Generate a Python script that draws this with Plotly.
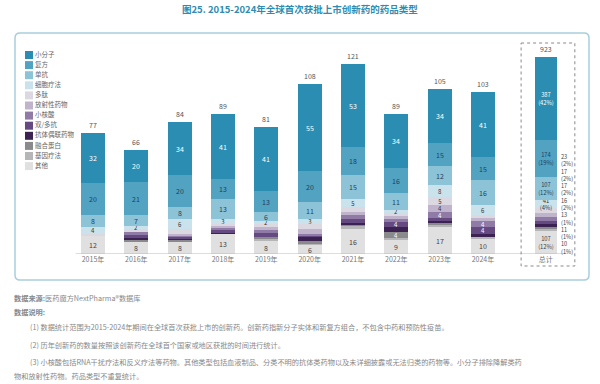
import plotly.graph_objects as go

# ---------------- data ----------------
years = ["2015年", "2016年", "2017年", "2018年", "2019年", "2020年",
         "2021年", "2022年", "2023年", "2024年"]
year_totals = [77, 66, 84, 89, 81, 108, 121, 89, 105, 103]
categories = ["小分子", "复方", "单抗", "细胞疗法", "多肽", "放射性药物", "小核酸",
              "双/多抗", "抗体偶联药物", "融合蛋白", "基因疗法", "其他"]
small_molecule = [32, 20, 34, 41, 41, 55, 53, 34, 34, 41]
combination = [20, 21, 20, 13, 13, 20, 18, 16, 15, 15]
mab = [8, 7, 8, 13, 6, 11, 15, 11, 12, 16]
cell_therapy = [4, 2, 6, 3, 2, 3, 5, 2, 8, 6]
peptide = [1, 2, 3, 1, 2, 3, 3, 2, 5, 2]
radio = [0, 0, 1, 1, 2, 3, 2, 2, 4, 2]
oligo = [0, 2, 1, 2, 1, 1, 3, 1, 4, 4]
bispecific = [0, 2, 1, 1, 3, 1, 2, 4, 2, 4]
adc = [0, 1, 1, 1, 0, 3, 1, 3, 1, 2]
fusion = [0, 1, 1, 0, 1, 1, 1, 4, 1, 0]
gene = [0, 0, 0, 0, 2, 1, 2, 1, 2, 1]
other = [12, 8, 8, 13, 8, 6, 16, 9, 17, 10]
series = [small_molecule, combination, mab, cell_therapy, peptide, radio, oligo,
          bispecific, adc, fusion, gene, other]

total_label = "总计"
grand_total = 923
total_values = [387, 174, 107, 41, 23, 17, 17, 16, 13, 11, 10, 107]
total_pcts = ["42%", "19%", "12%", "4%", "2%", "2%", "2%", "2%", "1%", "1%", "1%", "12%"]

title_text = "图25. 2015-2024年全球首次获批上市创新药的药品类型"
notes = [
    ("<b>数据来源:</b>医药魔方NextPharma®数据库", 12, 298),
    ("<b>数据说明:</b>", 12, 312),
    ("(1) 数据统计范围为2015-2024年期间在全球首次获批上市的创新药。创新药指新分子实体和新复方组合，不包含中药和预防性疫苗。", 28, 327),
    ("(2) 历年创新药的数量按照该创新药在全球首个国家或地区获批的时间进行统计。", 28, 345),
    ("(3) 小核酸包括RNA干扰疗法和反义疗法等药物。其他类型包括血液制品、分类不明的抗体类药物以及未详细披露或无法归类的药物等。小分子排除降解类药", 28, 362),
    ("物和放射性药物。药品类型不重复统计。", 12, 376),
]

# ---------------- style ----------------
colors = ["#2a8db1", "#52a2c2", "#8cc3d7", "#cae2ec", "#dcd8e2", "#c0b4cc",
          "#8f7ba6", "#654a82", "#3b2253", "#8a8a8c", "#b6b6b8", "#e0e0e0"]
text_colors = ["#ffffff", "#1f3f5c", "#1f3f5c", "#333333", "#333333", "#333333",
               "#ffffff", "#ffffff", "#ffffff", "#ffffff", "#333333", "#444444"]
FONT = "Noto Sans CJK SC"
W, H = 600, 384
PL, PR, PT, PB = 75, 580, 50, 254   # plot area in pixels
x_year = list(range(len(years)))
x_total = 10.45
big_idx = {0, 1, 2, 3, 11}

fig = go.Figure()

# yearly stacked bars (bottom category first)
for i in reversed(range(len(categories))):
    vals = series[i]
    txt = [str(v) if (v > 0 and (i in big_idx or v >= 4)) else "" for v in vals]
    fsize = 7 if i in (0, 1, 2, 11) else 6
    fig.add_trace(go.Bar(
        x=x_year, y=vals, name=categories[i],
        marker=dict(color=colors[i], line=dict(width=0)),
        width=0.55, text=txt, textposition="inside", textangle=0,
        insidetextanchor="middle", constraintext="none",
        textfont=dict(size=fsize, color=text_colors[i], family=FONT),
        showlegend=False, xaxis="x", yaxis="y", hoverinfo="x+y+name"))

# total column on its own scale
for i in reversed(range(len(categories))):
    v = total_values[i]
    label = f"{v}<br>({total_pcts[i]})" if i in big_idx else ""
    fig.add_trace(go.Bar(
        x=[x_total], y=[v], name=categories[i],
        marker=dict(color=colors[i], line=dict(width=0)),
        width=0.51, text=[label], textposition="inside", textangle=0,
        insidetextanchor="middle", constraintext="none",
        textfont=dict(size=5.8, color=text_colors[i], family=FONT),
        showlegend=False, xaxis="x", yaxis="y2", hoverinfo="y+name"))

# manual legend (compact)
leg_y = [55 + k * 10.1 for k in range(len(categories))]
fig.add_trace(go.Scatter(
    x=[29] * len(categories), y=leg_y, mode="markers+text",
    marker=dict(symbol="square", size=8, color=colors),
    text=categories, textposition="middle right",
    textfont=dict(size=6.5, color="#666666", family=FONT),
    showlegend=False, hoverinfo="skip", xaxis="x3", yaxis="y3"))

ann = []
# year totals
for xi, t in zip(x_year, year_totals):
    ann.append(dict(x=xi, y=t, xref="x", yref="y", text=str(t), showarrow=False,
                    yanchor="bottom", yshift=1, font=dict(size=7, color="#555555", family=FONT)))
ann.append(dict(x=x_total, y=grand_total, xref="x", yref="y2", text=str(grand_total),
                showarrow=False, yanchor="bottom", yshift=1,
                font=dict(size=7, color="#555555", family=FONT)))
# side labels for small categories in total column (one text block)
small_ids = [i for i in range(len(categories)) if i not in big_idx]
side_text = "<br>".join(f"{total_values[i]}<br>({total_pcts[i]})" for i in small_ids)
ann.append(dict(x=559, y=204, xref="x3", yref="y3", text=side_text, showarrow=False,
                xanchor="left", yanchor="middle", align="left",
                font=dict(size=5.6, color="#444444", family=FONT)))
# title
ann.append(dict(x=300, y=9, xref="x3", yref="y3", text=f"<b>{title_text}</b>",
                showarrow=False, font=dict(size=9.5, color="#2e8cb0", family=FONT)))
# notes
for txt, nx, ny in notes:
    ann.append(dict(x=nx, y=ny, xref="x3", yref="y3", text=txt, showarrow=False,
                    xanchor="left", yanchor="middle",
                    font=dict(size=7.2, color="#888888", family=FONT)))

shapes = [
    # rounded panel border
    dict(type="path", xref="x3", yref="y3",
         path="M 20,33 L 584,33 Q 589,33 589,38 L 589,275 Q 589,280 584,280 "
              "L 20,280 Q 15,280 15,275 L 15,38 Q 15,33 20,33 Z",
         line=dict(color="#a9cedc", width=1.5), fillcolor="rgba(0,0,0,0)", layer="below"),
    # baseline
    dict(type="line", xref="x", yref="y", x0=-0.4, x1=10.95, y0=0, y1=0,
         line=dict(color="#bbbbbb", width=1)),
    # dashed box around total column
    dict(type="rect", xref="x", yref="y3", x0=9.88, x1=11.12, y0=43, y1=266,
         line=dict(color="#8a8a8a", width=1, dash="dot"), fillcolor="rgba(0,0,0,0)"),
]

fig.update_layout(
    width=W, height=H, margin=dict(l=0, r=0, t=0, b=0),
    paper_bgcolor="white", plot_bgcolor="rgba(0,0,0,0)",
    barmode="stack", bargap=0, font=dict(family=FONT),
    xaxis=dict(domain=[PL / W, PR / W], range=[(PL - 93) / 43.33, (PR - 93) / 43.33],
               tickvals=x_year + [x_total], ticktext=years + [total_label],
               tickfont=dict(size=7, color="#777777", family=FONT),
               showgrid=False, zeroline=False, showline=False, ticks="",
               anchor="y", fixedrange=True),
    yaxis=dict(domain=[1 - PB / H, 1 - PT / H], range=[0, 129.9], visible=False,
               fixedrange=True),
    yaxis2=dict(overlaying="y", range=[0, 956], visible=False, fixedrange=True),
    xaxis3=dict(domain=[0, 1], range=[0, W], visible=False, anchor="y3", fixedrange=True),
    yaxis3=dict(domain=[0, 1], range=[H, 0], visible=False, anchor="x3", fixedrange=True),
    annotations=ann, shapes=shapes,
)

fig.write_html("out.html", config={"displayModeBar": False},
               post_script="document.body.style.margin='0px';")
